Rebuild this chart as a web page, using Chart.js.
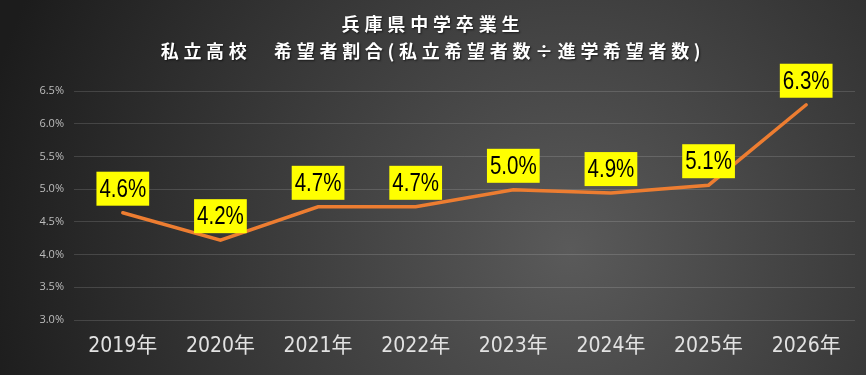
<!DOCTYPE html>
<html>
<head>
<meta charset="utf-8">
<script src="https://cdn.jsdelivr.net/npm/chart.js@4/dist/chart.umd.min.js"></script>
<style>
  html, body { margin: 0; padding: 0; background: #2a2a2a; }
  #wrap { width: 866px; height: 375px; }
</style>
</head>
<body>
<div id="wrap"><canvas id="myChart" width="866" height="375"></canvas></div>
<script>
const years = ['2019年', '2020年', '2021年', '2022年', '2023年', '2024年', '2025年', '2026年'];
const rates = [4.64, 4.22, 4.73, 4.73, 4.99, 4.94, 5.06, 6.29];
const rateLabels = ['4.6%', '4.2%', '4.7%', '4.7%', '5.0%', '4.9%', '5.1%', '6.3%'];
const titleLines = ['兵庫県中学卒業生', '私立高校　希望者割合(私立希望者数÷進学希望者数)'];

const NARROW = "'DejaVu Sans Condensed', 'Noto Sans CJK JP', sans-serif";

// dark radial background
const bgPlugin = {
    id: 'bg',
    beforeDraw(chart) {
        const ctx = chart.ctx;
        const g = ctx.createRadialGradient(570, 250, 0, 570, 250, 600);
        g.addColorStop(0, '#5a5a5a');
        g.addColorStop(1, '#1c1c1c');
        ctx.save();
        ctx.fillStyle = g;
        ctx.fillRect(0, 0, chart.width, chart.height);
        ctx.restore();
    }
};

// two-line title, spread to the widths of the original
const titlePlugin = {
    id: 'titleLines',
    afterDraw(chart) {
        const ctx = chart.ctx;
        const spans = [178, 540];
        const ys = [24, 51];
        ctx.save();
        ctx.font = "bold 18px 'Noto Sans CJK JP'";
        ctx.fillStyle = '#ffffff';
        ctx.textAlign = 'center';
        ctx.textBaseline = 'middle';
        ctx.shadowColor = 'rgba(0,0,0,0.6)';
        ctx.shadowOffsetX = 1;
        ctx.shadowOffsetY = 1;
        ctx.shadowBlur = 2;
        titleLines.forEach((t, i) => {
            ctx.letterSpacing = '0px';
            const w = ctx.measureText(t).width;
            const n = [...t].length - 1;
            ctx.letterSpacing = ((spans[i] - w) / n).toFixed(2) + 'px';
            ctx.fillText(t, 433, ys[i]);
        });
        ctx.restore();
    }
};

// yellow value boxes above each point (narrow text)
const boxLabels = {
    id: 'boxLabels',
    afterDatasetsDraw(chart) {
        const ctx = chart.ctx;
        const meta = chart.getDatasetMeta(0);
        const sx = 0.82;
        ctx.save();
        ctx.font = "25px 'Liberation Sans', Arial, sans-serif";
        ctx.textAlign = 'center';
        ctx.textBaseline = 'middle';
        meta.data.forEach((pt, i) => {
            const txt = rateLabels[i];
            const w = ctx.measureText(txt).width * sx + 6;
            const h = 34;
            const bottom = pt.y - 7;
            ctx.fillStyle = '#ffff00';
            ctx.fillRect(pt.x - w / 2, bottom - h, w, h);
            ctx.save();
            ctx.translate(pt.x, bottom - h / 2 + 1);
            ctx.scale(sx, 1);
            ctx.fillStyle = '#000000';
            ctx.fillText(txt, 0, 0);
            ctx.restore();
        });
        ctx.restore();
    }
};

const data = {
    labels: years,
    datasets: [
        {
            label: '私立希望者割合',
            data: rates,
            borderColor: '#ed7d31',
            borderWidth: 3.5,
            borderCapStyle: 'round',
            pointRadius: 0,
            tension: 0,
        }
    ]
};

const config = {
    type: 'line',
    data: data,
    options: {
        responsive: false,
        animation: false,
        layout: {
            padding: { top: 91, right: 11, bottom: 0, left: 0 }
        },
        plugins: {
            legend: { display: false },
            title: { display: false },
            tooltip: { enabled: false }
        },
        scales: {
            x: {
                offset: true,
                grid: { display: false, drawTicks: false },
                border: { display: false },
                ticks: {
                    color: '#e2e2e2',
                    font: { family: NARROW, size: 21 },
                    padding: 14,
                    maxRotation: 0
                },
                afterFit(scale) { scale.height = 55; }
            },
            y: {
                min: 3,
                max: 6.5,
                grid: { color: 'rgba(255,255,255,0.14)', drawTicks: false },
                border: { display: false },
                ticks: {
                    stepSize: 0.5,
                    color: '#bdbdbd',
                    font: { family: "'Open Sans', sans-serif", size: 11 },
                    padding: 10,
                    callback: (v) => v.toFixed(1) + '%'
                },
                afterFit(scale) { scale.width = 74; }
            }
        }
    },
    plugins: [bgPlugin, titlePlugin, boxLabels]
};

const myChart = new Chart(document.getElementById('myChart'), config);
</script>
</body>
</html>
